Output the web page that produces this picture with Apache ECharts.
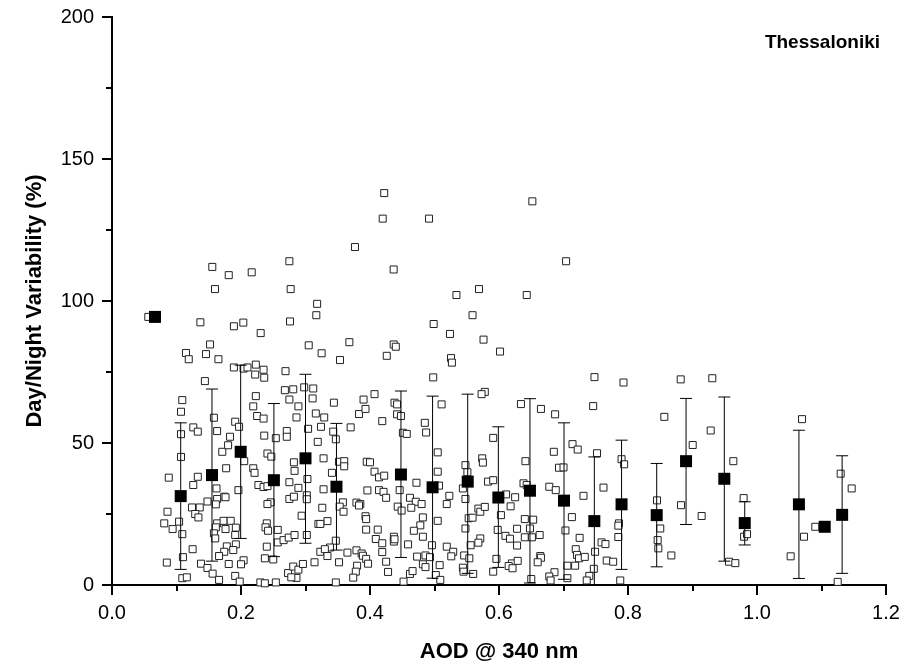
<!DOCTYPE html>
<html>
<head>
<meta charset="utf-8">
<script src="https://cdn.jsdelivr.net/npm/echarts/dist/echarts.min.js"></script>
<style>html,body{margin:0;padding:0;background:#fff}#chart{width:912px;height:668px}</style>
</head>
<body>
<div id="chart"></div>
<script>
// Individual day/night variability samples [AOD, %]
const samples = [
[0.1555,112.0],[0.181,109.1],[0.2166,110.1],[0.275,114.0],[0.1597,104.2],[0.277,104.2],[0.0563,94.4],[0.137,92.5],[0.189,91.1],[0.2036,92.4],[0.2305,88.7],[0.276,92.8],[0.152,84.7],[0.1147,81.7],[0.1457,81.3],[0.305,84.4],[0.119,79.5],[0.165,79.5],
[0.422,138.0],[0.4197,129.0],[0.4915,129.0],[0.3767,119.0],[0.4367,111.1],[0.569,104.2],[0.534,102.1],[0.318,99.0],[0.3168,95.0],[0.559,95.0],[0.4987,91.9],[0.524,88.4],[0.576,86.4],[0.368,85.5],[0.4367,84.7],[0.44,83.9],[0.325,81.6],[0.426,80.7],[0.5256,79.9],[0.3535,79.2],
[0.6517,135.1],[0.704,114.0],[0.643,102.1],[0.6016,82.2],
[0.189,76.6],[0.204,76.2],[0.210,76.6],[0.223,77.6],[0.235,75.8],[0.222,74.1],[0.236,73.0],[0.269,75.3],[0.144,71.8],[0.109,65.1],[0.107,61.0],[0.223,66.5],[0.219,62.9],[0.268,68.6],[0.281,68.9],[0.298,69.6],[0.275,65.3],[0.289,62.9],[0.158,58.9],[0.225,59.5],[0.235,58.6],[0.286,59.0],[0.126,55.5],[0.133,54.0],[0.107,53.1],[0.163,54.2],[0.191,57.5],[0.197,55.7],[0.183,52.2],[0.236,52.6],[0.254,51.7],[0.271,54.2],[0.271,52.2],[0.107,45.1],[0.171,46.9],[0.180,49.2],[0.205,43.6],[0.219,41.1],[0.221,39.5],[0.241,46.3],[0.247,45.2],[0.282,43.2],[0.283,40.2],[0.088,37.8],[0.126,35.2],[0.133,38.1],[0.177,41.1],[0.162,34.0],[0.174,31.1],[0.176,30.9],[0.163,30.3],[0.161,28.4],[0.148,29.4],[0.196,33.4],[0.227,35.2],[0.235,34.5],[0.241,34.8],[0.275,36.2],[0.289,34.2],[0.275,30.3],[0.282,31.1],[0.302,31.6],[0.086,25.8],[0.124,27.3],[0.136,27.3],[0.129,25.0],[0.134,23.8],[0.104,22.3],[0.081,21.7],[0.094,19.7],[0.109,17.9],[0.163,21.7],[0.161,20.3],[0.173,22.6],[0.184,22.6],[0.192,20.2],[0.176,19.7],[0.191,17.6],[0.158,18.2],[0.160,16.4],[0.240,21.7],[0.238,20.3],[0.242,19.1],[0.257,19.4],[0.246,29.1],[0.241,28.5],[0.294,24.4],[0.302,30.2],[0.257,15.0],[0.266,15.8],[0.274,16.7],[0.283,17.6],[0.302,17.6],[0.125,12.6],[0.110,9.8],[0.085,7.9],[0.178,13.6],[0.174,11.7],[0.166,10.2],[0.192,14.3],[0.188,12.3],[0.240,13.5],[0.237,9.4],[0.250,9.0],[0.204,8.7],[0.200,7.3],[0.181,7.4],[0.138,7.5],[0.148,6.0],[0.156,4.0],[0.166,1.8],[0.109,2.4],[0.116,2.7],[0.191,3.2],[0.198,1.2],[0.230,0.9],[0.237,0.6],[0.254,0.9],[0.273,4.2],[0.281,6.5],[0.289,5.4],[0.296,7.4],[0.286,2.5],[0.278,2.7],[0.304,55.0],[0.303,37.3],
[0.527,78.3],[0.498,73.1],[0.312,69.2],[0.311,65.7],[0.344,64.2],[0.390,65.3],[0.407,67.2],[0.438,64.2],[0.442,63.6],[0.511,63.6],[0.316,60.4],[0.329,59.0],[0.383,60.2],[0.393,62.0],[0.419,57.7],[0.442,60.1],[0.448,59.5],[0.485,57.1],[0.324,55.7],[0.343,54.0],[0.370,55.5],[0.487,53.7],[0.451,53.6],[0.457,53.2],[0.347,51.3],[0.319,50.4],[0.505,46.7],[0.328,44.6],[0.352,43.4],[0.360,43.6],[0.360,41.8],[0.395,43.4],[0.400,43.2],[0.341,39.5],[0.407,39.9],[0.414,37.9],[0.422,38.5],[0.505,39.9],[0.507,35.0],[0.472,36.0],[0.548,42.2],[0.551,39.7],[0.574,44.6],[0.575,43.1],[0.544,34.0],[0.328,33.7],[0.396,33.3],[0.414,33.4],[0.421,32.8],[0.425,30.7],[0.446,33.4],[0.462,30.7],[0.471,29.3],[0.480,28.5],[0.358,29.1],[0.353,27.6],[0.359,25.8],[0.379,29.0],[0.385,28.5],[0.383,28.0],[0.326,27.2],[0.443,27.6],[0.449,26.2],[0.464,27.2],[0.523,31.4],[0.519,28.5],[0.548,30.3],[0.568,26.9],[0.571,25.8],[0.578,27.5],[0.393,24.2],[0.394,23.2],[0.482,23.8],[0.505,22.6],[0.553,23.5],[0.559,23.7],[0.334,22.5],[0.320,21.5],[0.323,21.5],[0.478,21.0],[0.468,19.1],[0.482,17.0],[0.394,19.5],[0.412,19.5],[0.409,16.2],[0.419,14.7],[0.437,17.0],[0.437,15.3],[0.438,16.1],[0.459,14.3],[0.548,19.9],[0.556,14.0],[0.571,16.4],[0.568,14.9],[0.496,14.0],[0.519,13.5],[0.529,11.7],[0.347,15.6],[0.323,11.7],[0.338,13.2],[0.330,12.6],[0.334,10.2],[0.365,11.4],[0.379,12.2],[0.387,11.1],[0.389,10.3],[0.394,9.2],[0.397,7.5],[0.419,11.6],[0.425,8.2],[0.473,10.0],[0.486,10.4],[0.493,9.8],[0.482,7.3],[0.486,6.3],[0.508,7.0],[0.526,10.1],[0.546,10.4],[0.554,9.4],[0.544,6.1],[0.545,4.7],[0.560,3.9],[0.314,8.0],[0.352,8.0],[0.380,6.8],[0.378,4.7],[0.374,2.6],[0.428,4.6],[0.462,3.9],[0.466,4.9],[0.502,3.5],[0.509,1.8],[0.347,0.9],[0.452,1.2],
[0.578,68.0],[0.573,67.2],[0.634,63.7],[0.665,62.0],[0.687,60.1],[0.748,73.2],[0.746,63.0],[0.793,71.3],[0.591,51.8],[0.641,43.6],[0.685,46.9],[0.714,49.6],[0.722,47.7],[0.693,41.3],[0.700,41.4],[0.752,46.4],[0.583,36.4],[0.591,36.9],[0.638,35.8],[0.643,35.2],[0.678,34.6],[0.688,33.4],[0.731,31.4],[0.762,34.3],[0.790,44.3],[0.794,42.5],[0.611,31.9],[0.625,30.9],[0.618,27.7],[0.603,24.6],[0.640,23.2],[0.653,23.0],[0.628,19.8],[0.648,19.9],[0.598,19.4],[0.610,17.3],[0.617,16.3],[0.640,16.8],[0.651,16.8],[0.663,17.6],[0.628,13.9],[0.713,23.9],[0.703,19.2],[0.725,16.6],[0.759,15.0],[0.765,14.4],[0.786,21.7],[0.785,20.9],[0.785,16.9],[0.596,9.2],[0.591,4.7],[0.620,7.6],[0.615,6.7],[0.621,5.9],[0.629,8.5],[0.664,10.2],[0.665,9.6],[0.660,8.0],[0.719,12.6],[0.721,10.6],[0.724,9.4],[0.733,9.9],[0.718,6.8],[0.706,6.8],[0.749,11.7],[0.747,5.7],[0.740,3.2],[0.736,1.6],[0.767,8.6],[0.777,8.2],[0.686,4.5],[0.678,3.0],[0.680,1.6],[0.706,2.4],[0.650,2.1],[0.788,1.6],[0.845,29.8],[0.846,15.8],[0.850,19.9],[0.847,12.9],
[0.8563,59.2],[0.8817,72.4],[0.9307,72.8],[0.9282,54.4],[0.9003,49.3],[0.9633,43.6],[0.8822,28.1],[0.9142,24.3],[0.8672,10.4],[0.9793,30.6],[0.980,17.0],[0.9845,17.9],[0.9566,8.2],[0.9664,7.7],[1.0698,58.4],[1.0522,10.1],[1.0729,17.0],[1.0904,20.5],[1.1297,39.2],[1.1468,34.0],[1.1251,1.1]
];

// Binned means with error bar limits
const meanX = [0.0667,0.1065,0.155,0.1995,0.251,0.300,0.348,0.448,0.497,0.5515,0.599,0.648,0.7008,0.7478,0.790,0.8445,0.890,0.9493,0.981,1.065,1.105,1.132];
const meanY = [94.4,31.3,38.7,46.9,36.9,44.6,34.6,38.9,34.4,36.4,30.8,33.2,29.7,22.5,28.4,24.6,43.6,37.4,21.8,28.4,20.5,24.7];
const errTop = [null,57.1,69.0,77.4,63.9,74.2,56.9,68.3,66.5,67.2,55.7,65.6,57.1,45.1,51.0,42.8,65.7,66.2,29.3,54.5,null,45.5];
const errBottom = [null,5.5,8.4,16.4,10.0,14.7,12.3,9.7,2.4,4.1,6.2,0.7,2.0,0.0,5.5,6.4,21.3,8.4,14.1,2.3,null,4.1];

const xTicks = [0, 0.2, 0.4, 0.6, 0.8, 1.0, 1.2];
const yTicks = [0, 50, 100, 150, 200];

const FONT = 'Arial, "Liberation Sans", sans-serif';
const chart = echarts.init(document.getElementById('chart'), null, {renderer: 'canvas'});

const errData = meanX.map((x, i) => [x, errTop[i], errBottom[i]]).filter(d => d[1] != null);

const axisLineStyle = {color: '#000', width: 2};
const option = {
  animation: false,
  backgroundColor: '#fff',
  grid: {left: 112, top: 17, width: 774, height: 568, containLabel: false},
  xAxis: [{
    type: 'value', min: xTicks[0], max: xTicks[xTicks.length - 1], interval: 0.2,
    position: 'bottom',
    axisLine: {show: true, lineStyle: axisLineStyle},
    axisTick: {show: true, length: 10, lineStyle: {color: '#000', width: 2}},
    minorTick: {show: true, splitNumber: 2, length: 6, lineStyle: {color: '#000', width: 2}},
    splitLine: {show: false},
    axisLabel: {color: '#000', fontFamily: FONT, fontSize: 20, margin: 18, formatter: v => v.toFixed(1)},
    name: 'AOD @ 340 nm', nameLocation: 'middle', nameGap: 56,
    nameTextStyle: {color: '#000', fontFamily: FONT, fontSize: 22, fontWeight: 'bold'}
  }, {
    type: 'value', min: xTicks[0], max: xTicks[xTicks.length - 1], interval: 0.2,
    position: 'top',
    axisLine: {show: true, lineStyle: axisLineStyle},
    axisTick: {show: true, inside: true, length: 6, lineStyle: {color: '#000', width: 1}},
    minorTick: {show: true, splitNumber: 2, length: 4, lineStyle: {color: '#000', width: 1}},
    splitLine: {show: false},
    axisLabel: {show: false}
  }],
  yAxis: [{
    type: 'value', min: yTicks[0], max: yTicks[yTicks.length - 1], interval: 50,
    position: 'left',
    axisLine: {show: true, lineStyle: axisLineStyle},
    axisTick: {show: true, length: 10, lineStyle: {color: '#000', width: 2}},
    minorTick: {show: true, splitNumber: 2, length: 6, lineStyle: {color: '#000', width: 2}},
    splitLine: {show: false},
    axisLabel: {color: '#000', fontFamily: FONT, fontSize: 20, margin: 18},
    name: 'Day/Night Variability (%)', nameLocation: 'middle', nameGap: 66,
    nameTextStyle: {color: '#000', fontFamily: FONT, fontSize: 22, fontWeight: 'bold'}
  }, {
    type: 'value', min: yTicks[0], max: yTicks[yTicks.length - 1], interval: 50,
    position: 'right',
    axisLine: {show: true, lineStyle: axisLineStyle},
    axisTick: {show: true, inside: true, length: 6, lineStyle: {color: '#000', width: 1}},
    minorTick: {show: true, splitNumber: 2, length: 4, lineStyle: {color: '#000', width: 1}},
    splitLine: {show: false},
    axisLabel: {show: false}
  }],
  graphic: [{
    type: 'text', right: 32, top: 33,
    style: {text: 'Thessaloniki', font: 'bold 19px ' + FONT, fill: '#000'}
  }],
  series: [{
    type: 'scatter', xAxisIndex: 0, yAxisIndex: 0,
    symbol: 'rect', symbolSize: 7,
    itemStyle: {color: '#fff', borderColor: '#222', borderWidth: 1, opacity: 1},
    data: samples, z: 2
  }, {
    type: 'custom', xAxisIndex: 0, yAxisIndex: 0, z: 3,
    data: errData,
    renderItem: function (params, api) {
      const x = api.value(0);
      const top = api.coord([x, api.value(1)]);
      const bot = api.coord([x, api.value(2)]);
      const hw = 6;
      const st = {stroke: '#000', lineWidth: 1};
      return {type: 'group', children: [
        {type: 'line', shape: {x1: top[0], y1: top[1], x2: bot[0], y2: bot[1]}, style: st},
        {type: 'line', shape: {x1: top[0] - hw, y1: top[1], x2: top[0] + hw, y2: top[1]}, style: st},
        {type: 'line', shape: {x1: bot[0] - hw, y1: bot[1], x2: bot[0] + hw, y2: bot[1]}, style: st}
      ]};
    }
  }, {
    type: 'scatter', xAxisIndex: 0, yAxisIndex: 0, z: 4,
    symbol: 'rect', symbolSize: 12,
    itemStyle: {color: '#000', opacity: 1},
    data: meanX.map((x, i) => [x, meanY[i]])
  }]
};
chart.setOption(option);
</script>
</body>
</html>
